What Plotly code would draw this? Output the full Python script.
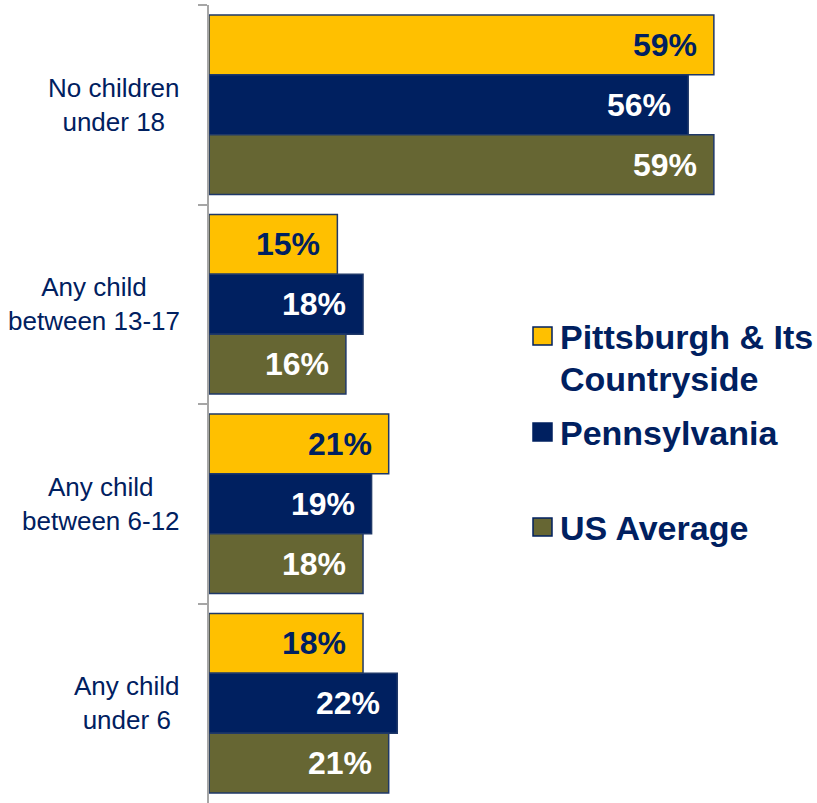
import plotly.graph_objects as go

# Household composition by region (% of respondents)
categories = ["No children<br>under 18", "Any child<br>between 13-17",
              "Any child<br>between 6-12", "Any child<br>under 6"]
series_names = ["Pittsburgh & Its<br>Countryside", "Pennsylvania", "US Average"]
pittsburgh = [59, 15, 21, 18]
pennsylvania = [56, 18, 19, 22]
us_average = [59, 16, 18, 21]

values = [pittsburgh, pennsylvania, us_average]
fills = ["#FFC000", "#002060", "#666633"]
label_colors = ["#002060", "#FFFFFF", "#FFFFFF"]
NAVY = "#002060"

W, H = 817, 803
ML, MR, MT, MB = 209, 9, 5, 0
PW, PH = W - ML - MR, H - MT - MB


def px_x(x):
    return (x - ML) / PW


def px_y(y):
    return 1 - (y - MT) / PH


fig = go.Figure()
for name, vals, col in zip(series_names, values, fills):
    fig.add_trace(go.Bar(
        y=categories, x=vals, orientation="h", name=name,
        marker=dict(color=col, line=dict(color="#1F3868", width=1.5)),
        showlegend=False, hoverinfo="skip",
    ))

annotations = []
# value labels at the inner end of each bar
n = len(values)
bar_w = 0.9 / n
for i, (vals, tc) in enumerate(zip(values, label_colors)):
    off = -0.45 + bar_w * (i + 0.5)
    for j, v in enumerate(vals):
        annotations.append(dict(
            x=v, y=j + off, xref="x", yref="y", text=f"<b>{v}%</b>",
            xanchor="right", yanchor="middle", xshift=-15, showarrow=False,
            font=dict(family="Liberation Sans, Arial", size=32, color=tc),
        ))

# category labels, centred line by line
for j, c in enumerate(categories):
    annotations.append(dict(
        x=px_x(182), y=j, xref="paper", yref="y", text=c, align="center",
        xanchor="right", yanchor="middle", showarrow=False,
        font=dict(family="Liberation Sans, Arial", size=26, color=NAVY),
    ))

# legend: swatches and text
shapes = []
legend_rows = [(336, ["Pittsburgh & Its", "Countryside"]), (432, ["Pennsylvania"]),
               (527, ["US Average"])]
for (yc, lines), col in zip(legend_rows, fills):
    shapes.append(dict(
        type="rect", xref="paper", yref="paper",
        x0=px_x(533), x1=px_x(552), y0=px_y(yc + 9), y1=px_y(yc - 9),
        fillcolor=col, line=dict(color=NAVY, width=1.5),
    ))
    for k, t in enumerate(lines):
        annotations.append(dict(
            x=px_x(558), y=px_y(yc + 1 + 42 * k), xref="paper", yref="paper",
            text=f"<b>{t}</b>", xanchor="left", yanchor="middle", showarrow=False,
            font=dict(family="Liberation Sans, Arial", size=34, color=NAVY),
        ))

fig.update_layout(
    width=W, height=H,
    margin=dict(l=ML, r=MR, t=MT, b=MB),
    paper_bgcolor="white", plot_bgcolor="white",
    barmode="group", bargap=0.1, bargroupgap=0,
    annotations=annotations, shapes=shapes,
    xaxis=dict(range=[0, 70], visible=False, fixedrange=True),
    yaxis=dict(
        autorange="reversed", showline=True, linecolor="#A6A6A6", linewidth=2,
        ticks="outside", tickson="boundaries", ticklen=9, tickwidth=2,
        tickcolor="#A6A6A6", showticklabels=False, showgrid=False,
        fixedrange=True,
    ),
)

fig.write_html("out.html")
